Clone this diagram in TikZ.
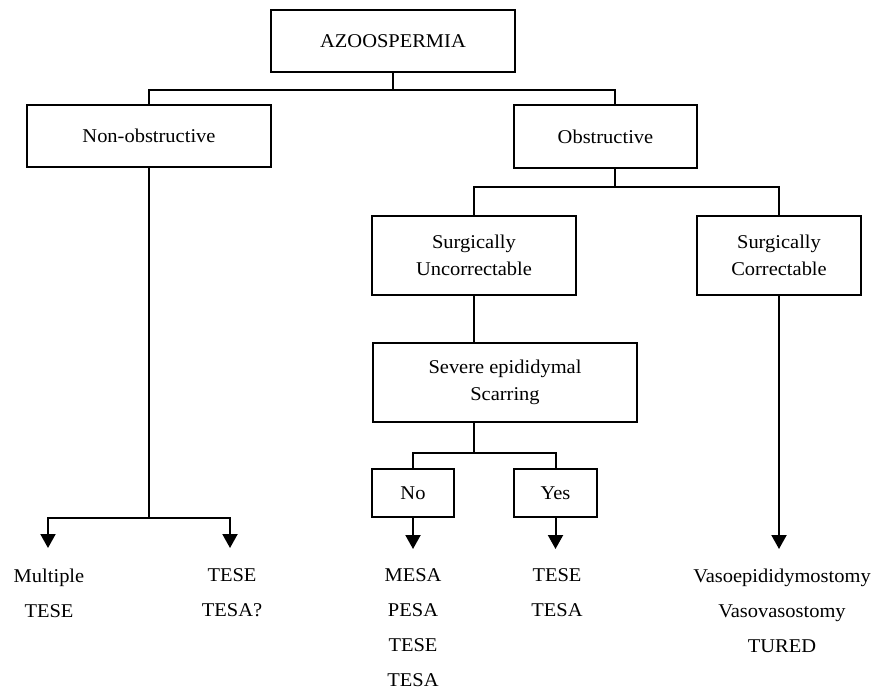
\documentclass[tikz,border=0pt]{standalone}
\usepackage{fontspec}
\setmainfont{Liberation Serif}[FakeStretch=1.05]
\usetikzlibrary{arrows.meta}

\begin{document}
\begin{tikzpicture}[x=1pt, y=-1pt,
		box/.style={draw, line width=2pt, rectangle, align=center, inner sep=0pt},
		txt/.style={align=center, anchor=north, inner sep=0pt},
		arr/.style={-{Triangle[width=15pt,length=14pt]}},
		every path/.style={line width=2pt},
		font=\fontsize{19.5}{27}\selectfont]
		
		\useasboundingbox (0,0) rectangle (888,691);
		
		% boxes
		\node[box, minimum width=244pt, minimum height=62pt] (azo) at (393,41) {AZOOSPERMIA};
		\node[box, minimum width=244pt, minimum height=62pt] (nonobs) at (149,136) {Non-obstructive};
		\node[box, minimum width=183pt, minimum height=63pt] (obs) at (605.5,136.5) {Obstructive};
		\node[box, minimum width=204pt, minimum height=79pt] (unc) at (474,255.5) {Surgically\\Uncorrectable};
		\node[box, minimum width=164pt, minimum height=79pt] (cor) at (779,255.5) {Surgically\\Correctable};
		\node[box, minimum width=264pt, minimum height=79pt] (sev) at (505,382.5) {Severe epididymal\\Scarring};
		\node[box, minimum width=82pt, minimum height=48pt] (no) at (413,493) {No};
		\node[box, minimum width=83pt, minimum height=48pt] (yes) at (555.5,493) {Yes};
		
		% outcomes
		\begin{scope}[font=\fontsize{19.5}{35}\selectfont]
		\node[txt] (multi) at (49,568) {Multiple\\TESE};
		\node[txt] (tesa) at (232,568) {TESE\\TESA?};
		\node[txt] (mesa) at (413,568) {MESA\\PESA\\TESE\\TESA};
		\node[txt] (tese) at (557,568) {TESE\\TESA};
		\node[txt] (vaso) at (782,568) {Vasoepididymostomy\\Vasovasostomy\\TURED};
		\end{scope}
		
		\coordinate (m1) at (48,548);
		\coordinate (m2) at (230,548);
		
		% connectors
		\draw (azo.south) -- ++(0,17) coordinate (j1);
		\draw (nonobs.north) |- (j1) -| ([xshift=9.5pt]obs.north);
		\draw ([xshift=9.5pt]obs.south) -- ++(0,18) coordinate (j2);
		\draw (unc.north) |- (j2) -| (cor.north);
		\draw (unc.south) -- (unc.south |- sev.north);
		\draw (unc.south |- sev.south) -- ++(0,30) coordinate (j3);
		\draw (no.north) |- (j3) -| (yes.north);
		\draw (nonobs.south) -- ++(0,350) coordinate (j4);
		\draw[arr] (j4) -| (m1);
		\draw[arr] (j4) -| (m2);
		\draw[arr] (no.south) -- ++(0,31);
		\draw[arr] (yes.south) -- ++(0,31);
		\draw[arr] (cor.south) -- ++(0,253);
\end{tikzpicture}
\end{document}
